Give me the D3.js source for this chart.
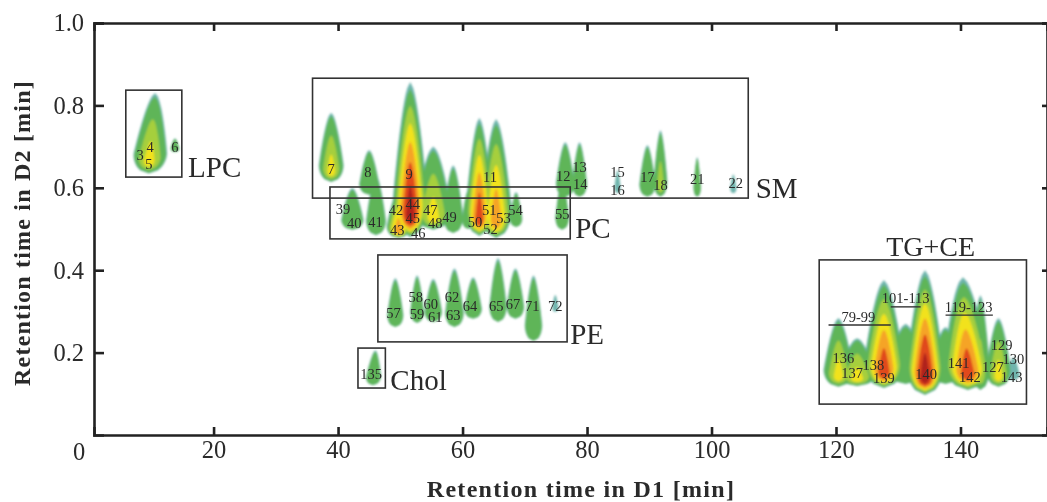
<!DOCTYPE html>
<html>
<head>
<meta charset="utf-8">
<script src="https://cdn.jsdelivr.net/npm/d3@7"></script>
<style>
  html, body { margin: 0; padding: 0; background: #fff; overflow: hidden; }
  text { font-family: "Liberation Serif", serif; fill: #2a2a2a; }
</style>
</head>
<body>
<div id="chart"></div>
<script>
// Peaks: D1 centre, D2 top and bottom, half width in D1, hottest colour level, lean of the tip
var peakD1     = [9.6, 13.8, 38.9, 45.0, 46.1, 42.3, 51.6, 49.7, 55.3, 58.5, 60.9, 62.7, 65.4, 68.6, 76.0, 76.5, 78.8, 84.9, 89.7, 91.8, 97.7, 103.5,
                  49.2, 52.7, 55.3, 58.7, 61.7, 65.7, 68.5, 71.4, 74.9, 45.6,
                  120.4, 123.4, 127.7, 131.2, 134.3, 137.6, 141.2, 143.2, 146.1, 148.5];
var peakTop    = [0.83, 0.72, 0.782, 0.692, 0.631, 0.60, 0.857, 0.595, 0.70, 0.655, 0.595, 0.77, 0.767, 0.59, 0.62, 0.711, 0.711, 0.643, 0.704, 0.74, 0.675, 0.633,
                  0.381, 0.388, 0.379, 0.405, 0.383, 0.43, 0.405, 0.388, 0.34, 0.206,
                  0.284, 0.235, 0.376, 0.27, 0.40, 0.262, 0.383, 0.34, 0.284, 0.189];
var peakBottom = [0.635, 0.687, 0.614, 0.583, 0.485, 0.498, 0.48, 0.478, 0.498, 0.49, 0.50, 0.483, 0.478, 0.505, 0.498, 0.578, 0.578, 0.587, 0.578, 0.578, 0.578, 0.587,
                  0.262, 0.272, 0.274, 0.262, 0.282, 0.274, 0.282, 0.228, 0.299, 0.121,
                  0.117, 0.119, 0.114, 0.124, 0.097, 0.124, 0.109, 0.109, 0.117, 0.133];
var peakWidth  = [2.7, 0.7, 2.0, 1.6, 1.6, 1.8, 2.8, 1.9, 2.9, 1.6, 1.0, 2.2, 2.5, 1.0, 1.1, 1.5, 1.2, 0.5, 1.3, 1.1, 0.6, 0.5,
                  1.3, 1.1, 1.4, 1.5, 1.4, 1.4, 1.4, 1.4, 0.5, 1.2,
                  2.4, 3.0, 3.2, 3.0, 3.0, 2.5, 3.7, 1.5, 2.0, 1.0];
var peakLevel  = [3, 1, 3, 1, 1, 1, 6, 4, 3, 1, 1, 5, 4, 1, 1, 1, 1, 0, 1, 2, 1, 0,
                  1, 1, 1, 1, 1, 1, 1, 1, 0, 1,
                  3, 3, 5, 1, 6, 1, 5, 2, 3, 0];
var peakTilt   = [1.0, 0, 0, 0, 0, 0, 0, 0, 0, 0, 0, 0, 0, 0, 0, 0, 0, 0, 0, 0, 0, 0,
                  0, 0, 0, 0, 0, 0, 0, 0, 0, 0.4,
                  0, 0, 0, 0, 0, 0, -0.8, 0, 0, 0];
var levelColors = ["#6fb5ad", "#5fb558", "#a6cf3c", "#f2e21f", "#f5a425", "#e04a1e", "#b0201c"];

// Peak numbers
var labelText = ["3", "4", "5", "6", "7", "8", "9", "11", "12", "13", "14", "15", "16", "17", "18", "21", "22",
                 "39", "40", "41", "42", "44", "45", "43", "46", "47", "48", "49", "50", "51", "52", "53", "54", "55",
                 "57", "58", "59", "60", "61", "62", "63", "64", "65", "67", "71", "72", "135",
                 "136", "137", "138", "139", "140", "141", "142", "127", "129", "130", "143", "79-99", "101-113", "119-123"];
var labelD1 = [8.2, 9.8, 9.6, 13.8, 38.9, 44.8, 51.4, 64.4, 76.2, 78.8, 78.9, 84.9, 84.9, 89.7, 91.8, 97.7, 103.9,
               40.8, 42.6, 46.0, 49.3, 52.0, 52.0, 49.5, 52.9, 54.8, 55.6, 57.9, 62.0, 64.3, 64.5, 66.6, 68.5, 76.0,
               48.9, 52.5, 52.7, 54.9, 55.6, 58.3, 58.5, 61.2, 65.4, 68.1, 71.2, 74.9, 45.3,
               121.2, 122.6, 126.0, 127.7, 134.5, 139.7, 141.5, 145.2, 146.6, 148.5, 148.2, 123.6, 131.2, 141.3];
var labelD2 = [0.68, 0.70, 0.658, 0.70, 0.646, 0.638, 0.633, 0.626, 0.629, 0.65, 0.609, 0.638, 0.595, 0.626, 0.607, 0.621, 0.612,
               0.548, 0.514, 0.517, 0.546, 0.56, 0.526, 0.498, 0.49, 0.546, 0.514, 0.53, 0.517, 0.546, 0.50, 0.527, 0.546, 0.536,
               0.296, 0.335, 0.294, 0.318, 0.286, 0.335, 0.291, 0.313, 0.313, 0.318, 0.313, 0.313, 0.148,
               0.187, 0.15, 0.17, 0.138, 0.148, 0.175, 0.141, 0.165, 0.218, 0.184, 0.141, 0.286, 0.333, 0.311];

// Group boxes and their names
var boxName  = ["LPC", "SM", "PC", "PE", "Chol", "TG+CE"];
var boxLeft  = [5.9, 35.9, 38.7, 46.4, 43.2, 117.3];
var boxRight = [14.9, 105.9, 77.3, 76.8, 47.6, 150.6];
var boxTop   = [0.837, 0.866, 0.602, 0.437, 0.211, 0.425];
var boxLow   = [0.626, 0.575, 0.476, 0.226, 0.114, 0.075];
var nameD1   = [15.9, 107.1, 78.1, 77.3, 48.4, 135.2];
var nameD2   = [0.627, 0.575, 0.478, 0.221, 0.109, 0.434];

// Lines under the TG+CE number ranges
var rangeStart = [118.8, 128.8, 137.6];
var rangeEnd   = [128.8, 133.6, 145.2];
var rangeD2    = [0.267, 0.311, 0.291];

var xTicks = [20, 40, 60, 80, 100, 120, 140];
var yTicks = [0.2, 0.4, 0.6, 0.8, 1.0];

function init(){
    var w = 1047;
    var h = 502;

    var svg = d3.select("#chart")
      .append("svg")
      .attr("width", w)
      .attr("height", h)
      .style("display", "block");

    var defs = svg.append("defs");
    defs.append("filter").attr("id", "soft")
      .append("feGaussianBlur").attr("stdDeviation", 0.9);
    defs.append("filter").attr("id", "softText")
      .append("feGaussianBlur").attr("stdDeviation", 0.35);

    var xScale = d3.scaleLinear().domain([0.79, 153.9]).range([94, 1047]);
    var yScale = d3.scaleLinear().domain([0, 1]).range([435, 23]);

    // One teardrop outline, t runs from the tip down to the foot
    var steps = d3.range(0, 1.001, 0.04);
    function profile(t){
        if (t < 0.75) return Math.pow(t / 0.75, 0.6);
        return Math.sqrt(1 - Math.pow((t - 0.75) / 0.25, 2));
    }
    function peakPath(i, k){
        var L = peakLevel[i];
        var s = k == 0 ? 1 : 0.95 * Math.pow(1 - (k - 1) / L, L >= 4 ? 0.75 : 1);
        var span = peakTop[i] - peakBottom[i];
        var foot = peakBottom[i] + span * (1 - s) * 0.12;
        var tip = foot + span * s;
        var area = d3.area()
          .y(function(t){ return yScale(tip + (foot - tip) * t); })
          .x0(function(t){ return xScale(peakD1[i] + peakTilt[i] * (1 - t) * s - peakWidth[i] * s * profile(t)); })
          .x1(function(t){ return xScale(peakD1[i] + peakTilt[i] * (1 - t) * s + peakWidth[i] * s * profile(t)); });
        return area(steps);
    }

    // Paint level by level so that overlapping peaks merge
    var blobs = svg.append("g").attr("filter", "url(#soft)");
    levelColors.forEach(function(color, k){
        blobs.append("g").selectAll("path")
          .data(d3.range(peakD1.length).filter(function(i){ return peakLevel[i] >= k; }))
          .enter()
          .append("path")
          .attr("fill", color)
          .attr("d", function(i){ return peakPath(i, k); });
    });

    var top = svg.append("g").attr("filter", "url(#softText)");

    // Boxes
    top.selectAll("rect.box")
      .data(boxName)
      .enter()
      .append("rect")
      .attr("class", "box")
      .attr("x", function(d, i){ return xScale(boxLeft[i]); })
      .attr("y", function(d, i){ return yScale(boxTop[i]); })
      .attr("width", function(d, i){ return xScale(boxRight[i]) - xScale(boxLeft[i]); })
      .attr("height", function(d, i){ return yScale(boxLow[i]) - yScale(boxTop[i]); })
      .attr("fill", "none")
      .attr("stroke", "#333")
      .attr("stroke-width", 1.6);

    top.selectAll("text.name")
      .data(boxName)
      .enter()
      .append("text")
      .attr("class", "name")
      .attr("x", function(d, i){ return xScale(nameD1[i]); })
      .attr("y", function(d, i){ return yScale(nameD2[i]); })
      .attr("text-anchor", function(d){ return d == "TG+CE" ? "middle" : "start"; })
      .attr("font-size", function(d){ return d == "TG+CE" ? 28 : 29; })
      .text(function(d){ return d; });

    top.selectAll("line.range")
      .data(rangeD2)
      .enter()
      .append("line")
      .attr("class", "range")
      .attr("x1", function(d, i){ return xScale(rangeStart[i]); })
      .attr("x2", function(d, i){ return xScale(rangeEnd[i]); })
      .attr("y1", function(d){ return yScale(d); })
      .attr("y2", function(d){ return yScale(d); })
      .attr("stroke", "#333")
      .attr("stroke-width", 1.4);

    top.selectAll("text.peak")
      .data(labelText)
      .enter()
      .append("text")
      .attr("class", "peak")
      .attr("x", function(d, i){ return xScale(labelD1[i]); })
      .attr("y", function(d, i){ return yScale(labelD2[i]); })
      .attr("dy", "0.35em")
      .attr("text-anchor", "middle")
      .attr("font-size", 14.5)
      .text(function(d){ return d; });

    // Axes, ticks point inwards on all four sides
    var xAxis = d3.axisBottom(xScale).tickValues(xTicks).tickSize(-8).tickPadding(6).tickFormat(d3.format("d"));
    var yAxis = d3.axisLeft(yScale).tickValues(yTicks).tickSize(-10).tickPadding(10).tickFormat(d3.format(".1f"));
    var xTop = d3.axisTop(xScale).tickValues(xTicks).tickSize(-8).tickFormat("");
    var yRight = d3.axisRight(yScale).tickValues(yTicks).tickSize(-5).tickFormat("");

    top.append("g").attr("class", "axis").attr("transform", "translate(0,435)").call(xAxis);
    top.append("g").attr("class", "axis").attr("transform", "translate(94,0)").call(yAxis);
    top.append("g").attr("class", "axis").attr("transform", "translate(0,23)").call(xTop);
    top.append("g").attr("class", "axis").attr("transform", "translate(1047,0)").call(yRight);

    top.selectAll(".axis path").attr("stroke", "#222").attr("stroke-width", 2.6);
    top.selectAll(".axis line").attr("stroke", "#222").attr("stroke-width", 2.6);
    top.selectAll(".axis text").attr("font-size", 24.5).attr("fill", "#2a2a2a").style("font-family", "'Liberation Serif', serif");

    top.append("text")
      .attr("x", 79)
      .attr("y", 451)
      .attr("dy", "0.35em")
      .attr("text-anchor", "middle")
      .attr("font-size", 24.5)
      .text("0");

    // Axis titles
    top.append("text")
      .attr("x", 581)
      .attr("y", 497)
      .attr("text-anchor", "middle")
      .attr("font-size", 24)
      .attr("font-weight", "bold")
      .attr("letter-spacing", 1.3)
      .text("Retention time in D1 [min]");

    top.append("text")
      .attr("transform", "translate(30,233) rotate(-90)")
      .attr("text-anchor", "middle")
      .attr("font-size", 24)
      .attr("font-weight", "bold")
      .attr("letter-spacing", 1.2)
      .text("Retention time in D2 [min]");
}

window.onload = init;
</script>
</body>
</html>
